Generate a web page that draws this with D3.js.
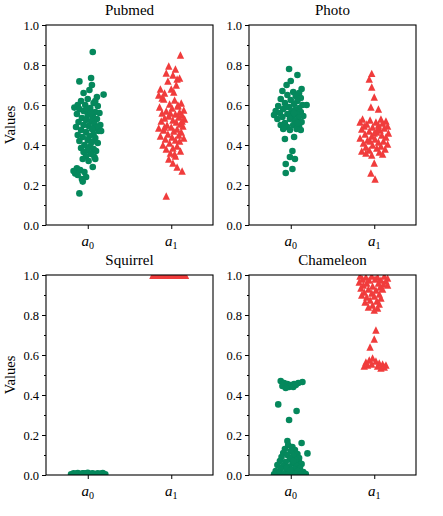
<!DOCTYPE html>
<html>
<head>
<meta charset="utf-8">
<script src="https://cdn.jsdelivr.net/npm/d3@7"></script>
<style>
body { margin: 0; background: #fff; }
svg text { font-family: "Liberation Serif", "Times New Roman", serif; fill: #000; }
</style>
</head>
<body>
<div id="chart"></div>
<script>
// categories and axis ticks
const categories = ['0', '1'];
const titles = ['Pubmed', 'Photo', 'Squirrel', 'Chameleon'];
const yTicks = [0, 0.2, 0.4, 0.6, 0.8, 1.0];
const yMinor = [0.1, 0.3, 0.5, 0.7, 0.9];

// [jitter (category units), value]
const pubmedA0 = [[0.06,0.865],[0.04,0.735],[-0.10,0.718],[0.05,0.70],[0.19,0.652],[-0.05,0.66],[0.02,0.675],[-0.16,0.587],[-0.12,0.60],[0.11,0.64],[0.09,0.62],
	[0.09,0.33],[0.06,0.29],[-0.13,0.283],[-0.15,0.258],[-0.06,0.217],[-0.10,0.158],[-0.17,0.27],[-0.09,0.275],[-0.04,0.265],[-0.02,0.24],[-0.07,0.23],[-0.12,0.25],
	[-0.08,0.62],[0.00,0.63],[0.07,0.61],[-0.03,0.60],[0.12,0.595],[-0.10,0.58],[0.03,0.585],[-0.05,0.57],[0.09,0.565],[0.14,0.56],[-0.13,0.555],[0.00,0.55],
	[0.06,0.545],[-0.07,0.535],[0.11,0.53],[-0.02,0.525],[0.04,0.52],[-0.11,0.515],[0.08,0.505],[0.15,0.50],[-0.05,0.50],[0.01,0.495],[-0.14,0.49],[0.10,0.485],
	[0.05,0.48],[-0.08,0.475],[0.13,0.47],[-0.02,0.465],[0.07,0.455],[-0.12,0.45],[0.02,0.445],[-0.06,0.44],[0.09,0.435],[0.00,0.425],[-0.10,0.42],[0.05,0.415],
	[0.12,0.41],[-0.04,0.40],[0.03,0.395],[-0.08,0.385],[0.07,0.38],[0.00,0.375],[-0.05,0.365],[0.10,0.37],[0.04,0.355],[-0.02,0.345],[0.08,0.34],[-0.06,0.33],
	[0.01,0.32],[0.13,0.49],[0.16,0.47],[-0.01,0.58],[0.04,0.56]];

const pubmedA1 = [[0.11,0.85],[-0.03,0.795],[0.05,0.78],[-0.06,0.76],[0.10,0.735],[-0.04,0.72],[0.02,0.75],[0.07,0.73],[-0.13,0.68],[0.00,0.68],[-0.15,0.65],
	[0.06,0.70],[-0.08,0.66],[0.03,0.665],[-0.11,0.635],
	[0.07,0.29],[0.13,0.27],[-0.06,0.145],[0.02,0.31],[-0.03,0.33],[0.05,0.345],
	[-0.09,0.63],[0.04,0.625],[0.12,0.61],[-0.02,0.605],[0.08,0.595],[-0.14,0.59],[0.01,0.585],[0.15,0.575],[-0.06,0.57],[0.10,0.565],[-0.11,0.56],[0.05,0.555],
	[0.13,0.55],[-0.03,0.545],[0.09,0.54],[-0.08,0.535],[0.16,0.53],[0.02,0.525],[-0.12,0.52],[0.06,0.515],[0.11,0.505],[-0.05,0.50],[0.14,0.495],[0.00,0.49],
	[-0.15,0.485],[0.07,0.48],[-0.09,0.475],[0.03,0.47],[0.12,0.465],[-0.04,0.455],[0.09,0.45],[-0.13,0.445],[0.01,0.44],[0.15,0.435],[-0.07,0.43],[0.05,0.425],
	[0.10,0.42],[-0.02,0.41],[-0.10,0.40],[0.07,0.395],[0.02,0.385],[-0.06,0.38],[0.11,0.37],[-0.01,0.36],[0.04,0.355],[-0.08,0.49],[0.13,0.52],[-0.01,0.56],[0.08,0.60]];

const photoA0 = [[-0.02,0.78],[0.08,0.75],[0.00,0.72],[-0.05,0.70],[0.13,0.68],[0.19,0.60],[-0.07,0.43],[0.04,0.44],[0.02,0.37],[-0.01,0.34],[0.05,0.33],
	[-0.06,0.305],[0.02,0.28],[-0.06,0.26],
	[-0.10,0.67],[0.03,0.665],[0.10,0.66],[-0.04,0.65],[0.06,0.645],[0.12,0.635],[-0.12,0.63],[0.00,0.625],[0.08,0.62],[-0.07,0.61],[0.04,0.605],[0.14,0.60],
	[-0.15,0.595],[-0.02,0.59],[0.10,0.585],[-0.09,0.58],[0.05,0.575],[-0.18,0.57],[0.01,0.57],[0.12,0.565],[-0.13,0.56],[-0.04,0.555],[0.07,0.555],[-0.20,0.55],
	[0.02,0.545],[0.15,0.545],[-0.10,0.54],[0.09,0.535],[-0.16,0.53],[-0.01,0.53],[0.05,0.52],[0.13,0.515],[-0.07,0.51],[-0.12,0.50],[0.03,0.50],[0.10,0.495],
	[-0.04,0.49],[-0.09,0.48],[0.07,0.48],[0.12,0.475],[-0.01,0.475],[0.04,0.56],[-0.06,0.59],[0.08,0.51]];

const photoA1 = [[-0.03,0.758],[-0.06,0.73],[-0.03,0.69],[0.00,0.64],[-0.04,0.59],[0.05,0.58],[0.00,0.31],[-0.04,0.26],[0.01,0.23],
	[-0.14,0.53],[0.08,0.53],[-0.05,0.525],[0.14,0.52],[-0.17,0.515],[0.02,0.515],[0.10,0.51],[-0.09,0.505],[0.05,0.50],[-0.12,0.495],[0.16,0.495],[-0.02,0.49],
	[0.12,0.485],[-0.15,0.48],[0.07,0.475],[-0.06,0.47],[0.03,0.465],[0.17,0.46],[-0.11,0.455],[0.09,0.45],[-0.03,0.445],[0.14,0.44],[-0.17,0.435],[0.01,0.43],
	[-0.08,0.425],[0.11,0.42],[0.05,0.415],[-0.13,0.41],[0.16,0.405],[-0.02,0.40],[0.08,0.395],[-0.10,0.39],[0.03,0.385],[0.13,0.38],[-0.06,0.375],[-0.15,0.37],
	[0.06,0.365],[0.10,0.355],[-0.03,0.35],[-0.10,0.36],[0.00,0.46],[-0.05,0.42],[0.04,0.48]];

const squirrelA0 = [[-0.20,0.004],[-0.17,0.008],[-0.14,0.002],[-0.12,0.010],[-0.10,0.006],[-0.08,0.003],[-0.06,0.009],[-0.04,0.005],[-0.02,0.007],[0.00,0.011],
	[0.02,0.004],[0.04,0.006],[0.06,0.008],[0.08,0.003],[0.10,0.005],[0.12,0.009],[0.14,0.002],[0.16,0.007],[0.18,0.010],[0.21,0.004],
	[-0.15,0.006],[-0.05,0.008],[0.05,0.005],[0.13,0.003],[-0.01,0.007]];

const squirrelA1 = [[-0.22,0.999],[-0.19,1.0],[-0.16,0.999],[-0.13,1.0],[-0.10,0.999],[-0.07,1.0],[-0.04,0.999],[-0.01,1.0],[0.02,1.0],[0.05,0.999],
	[0.08,1.0],[0.11,0.999],[0.14,1.0],[0.17,0.999],[-0.12,1.0],[0.00,0.999],[0.10,1.0]];

const chameleonA0 = [[-0.15,0.353],[0.07,0.32],[-0.02,0.275],[-0.04,0.17],[0.13,0.16],[0.20,0.108],[0.10,0.065],
	[-0.12,0.47],[-0.08,0.46],[-0.04,0.455],[0.00,0.45],[0.04,0.455],[0.09,0.46],[0.14,0.465],[-0.10,0.445],[-0.02,0.44],[0.03,0.44],[0.06,0.45],[-0.06,0.435],
	[-0.03,0.15],[0.02,0.14],[-0.07,0.13],[0.05,0.125],[0.00,0.12],[-0.09,0.11],[0.08,0.105],[-0.04,0.10],[0.03,0.095],[-0.11,0.09],[0.10,0.085],[-0.01,0.08],
	[0.06,0.075],[-0.13,0.07],[-0.06,0.065],[0.02,0.06],[0.13,0.055],[-0.16,0.05],[-0.09,0.045],[0.07,0.045],[-0.02,0.04],[0.11,0.035],[-0.12,0.03],[0.04,0.03],
	[-0.18,0.02],[-0.05,0.02],[0.09,0.02],[0.15,0.015],[-0.14,0.01],[0.01,0.01],[-0.08,0.005],[0.06,0.005],[0.18,0.005],[-0.20,0.003],[0.12,0.002],[-0.03,0.002],
	[0.03,0.07],[-0.05,0.035],[0.00,0.025]];

const chameleonA1 = [[-0.17,0.995],[-0.10,0.99],[-0.03,0.995],[0.04,0.99],[0.12,0.995],[0.16,0.985],[-0.14,0.98],[-0.06,0.975],[0.01,0.98],[0.08,0.975],
	[0.14,0.97],[-0.18,0.965],[-0.09,0.96],[0.05,0.96],[0.11,0.955],[-0.13,0.95],[-0.02,0.945],[0.16,0.95],[0.07,0.94],[-0.16,0.935],[-0.07,0.93],[0.02,0.925],
	[0.10,0.93],[-0.12,0.915],[-0.03,0.91],[0.06,0.905],[-0.15,0.90],[0.00,0.895],[-0.09,0.89],[0.08,0.885],[-0.05,0.875],[0.03,0.87],[-0.11,0.865],[0.06,0.855],
	[-0.02,0.85],[-0.07,0.84],[0.04,0.835],[0.00,0.825],
	[0.02,0.725],[0.00,0.68],[-0.05,0.64],
	[-0.10,0.565],[-0.06,0.575],[-0.02,0.585],[0.02,0.57],[0.06,0.56],[0.10,0.555],[0.14,0.55],[-0.08,0.55],[-0.03,0.555],[0.04,0.545],[0.12,0.54],[-0.12,0.545],[0.08,0.535]];

const panels = [
	{ title: titles[0], a0: pubmedA0, a1: pubmedA1 },
	{ title: titles[1], a0: photoA0, a1: photoA1 },
	{ title: titles[2], a0: squirrelA0, a1: squirrelA1 },
	{ title: titles[3], a0: chameleonA0, a1: chameleonA1 }
];

const width = 443, height = 516;
const panelW = 167, panelH = 200;
const origins = [[46, 25], [249, 25], [46, 275], [249, 275]];
const green = '#05885c';
const red = '#f03c3c';
const serif = '"Liberation Serif", "Times New Roman", serif';

const svg = d3.select('#chart')
	.append('svg')
	.attr('width', width)
	.attr('height', height)
	.attr('font-family', serif);

// matplotlib-style '^' marker: width == height, centred on its box
const triangle = {
	draw(ctx, size) {
		const h = Math.sqrt(size) / 2;
		ctx.moveTo(0, -h);
		ctx.lineTo(h, h);
		ctx.lineTo(-h, h);
		ctx.closePath();
	}
};

panels.forEach((p, i) => {
	const [ox, oy] = origins[i];

	const x = d3.scaleLinear().domain([-0.5, 1.5]).range([0, panelW]);
	const y = d3.scaleLinear().domain([0, 1]).range([panelH, 0]);

	const g = svg.append('g')
		.attr('transform', `translate(${ox},${oy})`);

	g.append('clipPath')
		.attr('id', `clip${i}`)
		.append('rect')
		.attr('width', panelW)
		.attr('height', panelH);

	const plot = g.append('g')
		.attr('clip-path', `url(#clip${i})`);

	plot.selectAll('circle')
		.data(p.a0)
		.join('circle')
		.attr('cx', d => x(0 + d[0]))
		.attr('cy', d => y(d[1]))
		.attr('r', 3.3)
		.attr('fill', green);

	plot.selectAll('path.tri')
		.data(p.a1)
		.join('path')
		.attr('class', 'tri')
		.attr('d', d3.symbol(triangle, 7.4 * 7.4))
		.attr('transform', d => `translate(${x(1 + d[0])},${y(d[1])})`)
		.attr('fill', red);

	// y axis, major + minor
	g.append('g')
		.call(d3.axisLeft(y).tickValues(yTicks).tickFormat(d3.format('.1f')).tickSize(4).tickPadding(3))
		.attr('font-family', serif)
		.call(a => a.select('.domain').remove())
		.call(a => a.selectAll('text').attr('font-size', 12.5))
		.call(a => a.selectAll('line').attr('stroke-width', 1));

	g.append('g')
		.call(d3.axisLeft(y).tickValues(yMinor).tickFormat('').tickSize(2))
		.call(a => a.select('.domain').remove());

	// x axis
	g.append('g')
		.attr('transform', `translate(0,${panelH})`)
		.call(d3.axisBottom(x).tickValues([0, 1]).tickFormat('').tickSize(4))
		.call(a => a.select('.domain').remove());

	categories.forEach((c, k) => {
		const t = g.append('text')
			.attr('x', x(k))
			.attr('y', panelH + 21)
			.attr('text-anchor', 'middle');
		t.append('tspan')
			.attr('font-style', 'italic')
			.attr('font-size', 15)
			.text('a');
		t.append('tspan')
			.attr('font-size', 10)
			.attr('dy', 3)
			.text(c);
	});

	// frame
	g.append('rect')
		.attr('width', panelW)
		.attr('height', panelH)
		.attr('fill', 'none')
		.attr('stroke', '#000')
		.attr('stroke-width', 1.1);

	g.append('text')
		.attr('x', panelW / 2)
		.attr('y', -10)
		.attr('text-anchor', 'middle')
		.attr('font-size', 15)
		.text(p.title);

	if (i % 2 === 0) {
		g.append('text')
			.attr('transform', `translate(${-31},${panelH / 2}) rotate(-90)`)
			.attr('text-anchor', 'middle')
			.attr('font-size', 14.5)
			.text('Values');
	}
});
</script>
</body>
</html>
